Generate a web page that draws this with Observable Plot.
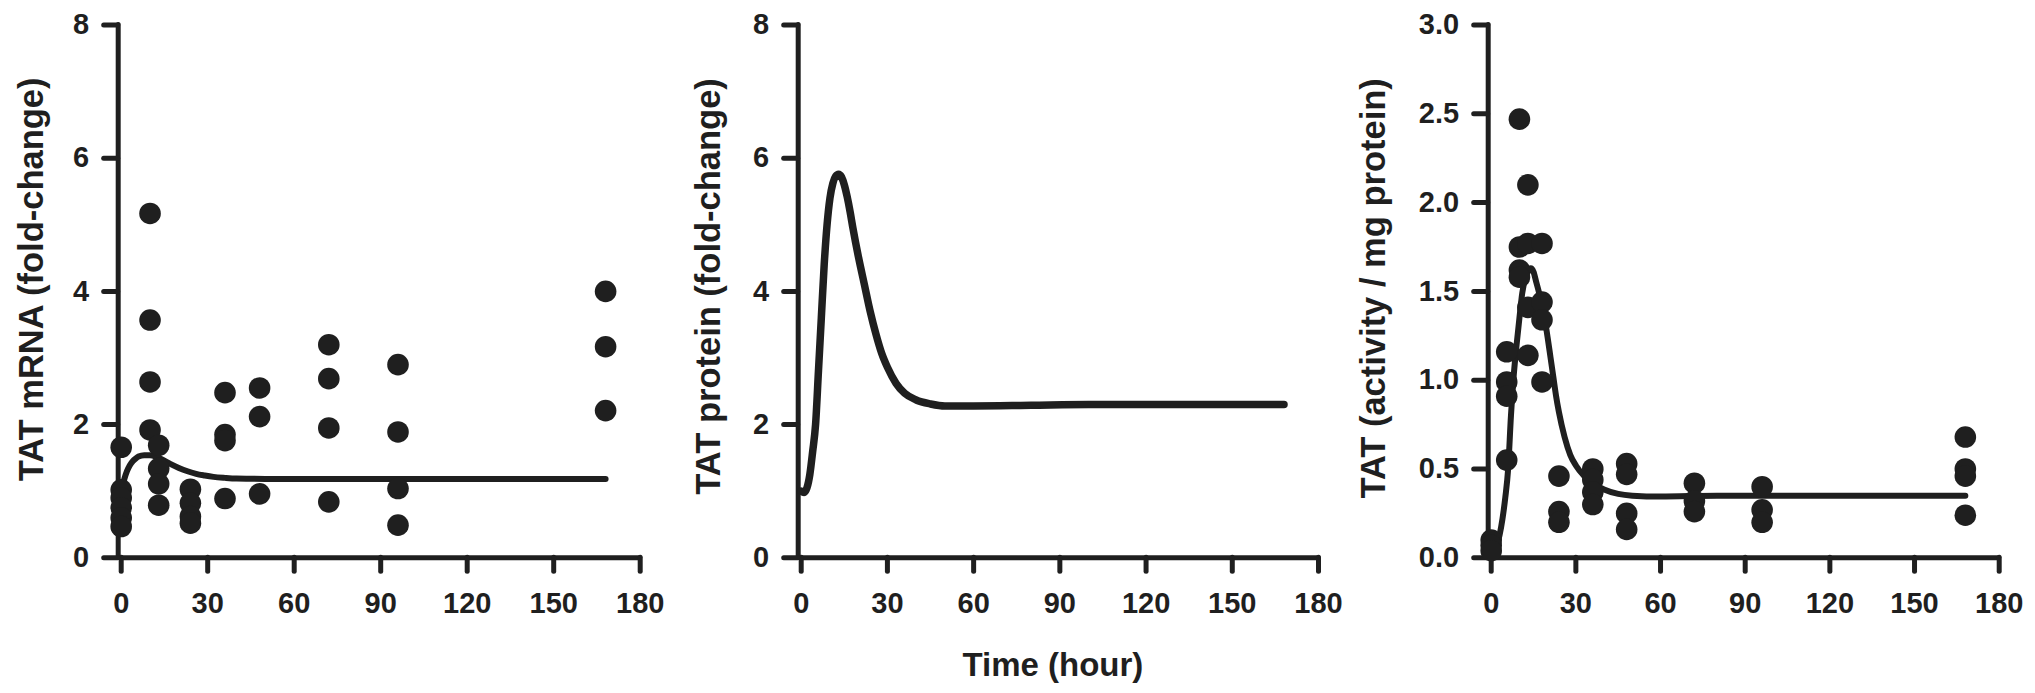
<!DOCTYPE html>
<html>
<head>
<meta charset="utf-8">
<script src="https://cdn.jsdelivr.net/npm/d3@7"></script>
<script src="https://cdn.jsdelivr.net/npm/@observablehq/plot@0.6"></script>
<style>
  html, body { margin: 0; padding: 0; background: #ffffff; }
  #chart { position: relative; width: 2035px; height: 693px; background: #ffffff; overflow: hidden; }
  .panel { position: absolute; top: 0; }
</style>
</head>
<body>
<div id="chart"></div>
<script>
// ---------- shared tick labels ----------
const timeTicks = [0, 30, 60, 90, 120, 150, 180];
const foldTicks = [0, 2, 4, 6, 8];
const activityTicks = [0, 0.5, 1.0, 1.5, 2.0, 2.5, 3.0];

// ---------- panel 1: TAT mRNA ----------
const mrnaObsTime  = [0, 0, 0, 0, 0, 0,
                      10, 10, 10, 10,
                      13, 13, 13, 13,
                      24, 24, 24, 24,
                      36, 36, 36, 36,
                      48, 48, 48,
                      72, 72, 72, 72,
                      96, 96, 96, 96,
                      168, 168, 168];
const mrnaObsValue = [1.66, 1.02, 0.9, 0.75, 0.6, 0.47,
                      5.17, 3.57, 2.64, 1.92,
                      1.69, 1.34, 1.11, 0.79,
                      1.03, 0.82, 0.62, 0.52,
                      2.48, 1.85, 1.76, 0.89,
                      2.55, 2.12, 0.96,
                      3.2, 2.69, 1.95, 0.84,
                      2.9, 1.89, 1.04, 0.49,
                      4.0, 3.17, 2.21];
const mrnaFitTime  = [0, 1, 2, 3, 4, 5, 6, 8, 10, 12, 14, 17, 20, 23, 26, 29, 32, 36, 40, 50, 80, 120, 168];
const mrnaFitValue = [1.0, 1.17, 1.3, 1.39, 1.45, 1.49, 1.52, 1.54, 1.54, 1.52, 1.48, 1.41, 1.35, 1.3, 1.26, 1.235, 1.215, 1.2, 1.19, 1.185, 1.185, 1.185, 1.185];

// ---------- panel 2: TAT protein ----------
const proteinFitTime  = [0, 1, 2, 3, 4, 5, 6, 7, 8, 9, 10, 11, 12, 13, 14, 15, 16, 17, 18, 20, 22, 24, 26, 28, 30, 33, 36, 40, 45, 50, 55, 60, 80, 100, 168];
const proteinFitValue = [1.0, 0.98, 1.05, 1.25, 1.6, 2.0, 2.8, 3.6, 4.4, 5.0, 5.4, 5.62, 5.73, 5.76, 5.72, 5.6, 5.42, 5.2, 4.95, 4.5, 4.1, 3.7, 3.36, 3.07, 2.86, 2.62, 2.47, 2.37, 2.31, 2.28, 2.28, 2.28, 2.29, 2.3, 2.3];

// ---------- panel 3: TAT activity ----------
const actObsTime  = [0, 0, 0,
                     5.5, 5.5, 5.5, 5.5,
                     10, 10, 10, 10,
                     13, 13, 13, 13,
                     18, 18, 18, 18,
                     24, 24, 24,
                     36, 36, 36, 36,
                     48, 48, 48, 48,
                     72, 72, 72,
                     96, 96, 96,
                     168, 168, 168, 168];
const actObsValue = [0.1, 0.07, 0.04,
                     1.16, 0.99, 0.91, 0.55,
                     2.47, 1.75, 1.62, 1.58,
                     2.10, 1.77, 1.41, 1.14,
                     1.77, 1.44, 1.34, 0.99,
                     0.46, 0.26, 0.2,
                     0.5, 0.44, 0.37, 0.3,
                     0.53, 0.47, 0.25, 0.16,
                     0.42, 0.32, 0.26,
                     0.4, 0.27, 0.2,
                     0.68, 0.5, 0.46, 0.24];
const actFitTime  = [0, 2, 3, 4, 5, 6, 7, 8, 9, 10, 11, 12, 13, 14, 15, 16, 17, 18, 19, 20, 21, 22, 23, 24, 26, 28, 30, 33, 36, 40, 45, 50, 60, 80, 100, 168];
const actFitValue = [0.02, 0.07, 0.13, 0.22, 0.34, 0.5, 0.8, 1.03, 1.2, 1.35, 1.49, 1.57, 1.61, 1.63, 1.61, 1.55, 1.49, 1.42, 1.34, 1.24, 1.13, 1.02, 0.91, 0.82, 0.68, 0.58, 0.52, 0.46, 0.42, 0.385, 0.36, 0.35, 0.345, 0.35, 0.35, 0.35];

// ---------- drawing ----------
const ink = "#1f1f1f";
const font = "'Liberation Sans', Arial, Helvetica, sans-serif";

function zip(xs, ys) { return xs.map((x, i) => ({x, y: ys[i]})); }

function panel({left, width, marginLeft, marginRight, yTicks, yFormat, yTitle, titleDx, titleDy,
                obs, fit, fitWidth, xTitle}) {
  const yMax = yTicks[yTicks.length - 1];
  const xMax = timeTicks[timeTicks.length - 1];
  const marks = [
    Plot.ruleY([0], {x1: timeTicks[0], x2: xMax, stroke: ink, strokeWidth: 5, strokeLinecap: "round"}),
    Plot.ruleX([0], {y1: yTicks[0], y2: yMax, dx: -3, stroke: ink, strokeWidth: 5, strokeLinecap: "round"}),
    Plot.axisX(timeTicks, {tickSize: 14, tickPadding: 21, fontSize: 29, fontWeight: "bold", fill: ink,
      stroke: ink, strokeWidth: 5, strokeLinecap: "round", label: null, tickFormat: d => String(d)}),
    Plot.axisY(yTicks, {tickSize: 14, tickPadding: 15, fontSize: 29, fontWeight: "bold", fill: ink, dx: -3,
      stroke: ink, strokeWidth: 5, strokeLinecap: "round", label: null, tickFormat: yFormat}),
    Plot.text([yTitle], {frameAnchor: "left", rotate: -90, dx: titleDx, dy: titleDy, text: d => d,
      fontSize: 34.5, fontWeight: "bold", fill: ink, lineAnchor: "middle", textAnchor: "middle"}),
    Plot.line(fit, {x: "x", y: "y", stroke: ink, strokeWidth: fitWidth, strokeLinecap: "round",
      strokeLinejoin: "round", curve: "monotone-x"})
  ];
  if (obs) marks.push(Plot.dot(obs, {x: "x", y: "y", r: 10.8, fill: ink, stroke: "none"}));
  if (xTitle) marks.push(Plot.text([xTitle], {frameAnchor: "bottom", dy: 94.4, dx: -7, text: d => d,
      fontSize: 33, fontWeight: "bold", fill: ink, lineAnchor: "top"}));
  const svg = Plot.plot({
    width, height: 693,
    marginLeft, marginRight, marginTop: 24.5, marginBottom: 135.7,
    style: {background: "transparent", overflow: "visible", color: ink, fontFamily: font},
    x: {domain: [timeTicks[0], xMax], axis: null},
    y: {domain: [yTicks[0], yMax], axis: null},
    marks
  });
  const div = document.createElement("div");
  div.className = "panel";
  div.style.left = left + "px";
  div.appendChild(svg);
  document.getElementById("chart").appendChild(div);
}

panel({left: 0, width: 680, marginLeft: 120.7, marginRight: 40.3,
  yTicks: foldTicks, yFormat: d => String(d), yTitle: "TAT mRNA (fold-change)", titleDx: -89, titleDy: -12,
  obs: zip(mrnaObsTime, mrnaObsValue), fit: zip(mrnaFitTime, mrnaFitValue), fitWidth: 6});

panel({left: 680, width: 680, marginLeft: 120.7, marginRight: 42,
  yTicks: foldTicks, yFormat: d => String(d), yTitle: "TAT protein (fold-change)", titleDx: -92, titleDy: -5,
  obs: null, fit: zip(proteinFitTime, proteinFitValue), fitWidth: 7.5, xTitle: "Time (hour)"});

panel({left: 1360, width: 675, marginLeft: 130.7, marginRight: 36.3,
  yTicks: activityTicks, yFormat: d3.format(".1f"), yTitle: "TAT (activity / mg protein)", titleDx: -117, titleDy: -3,
  obs: zip(actObsTime, actObsValue), fit: zip(actFitTime, actFitValue), fitWidth: 6});
</script>
</body>
</html>
